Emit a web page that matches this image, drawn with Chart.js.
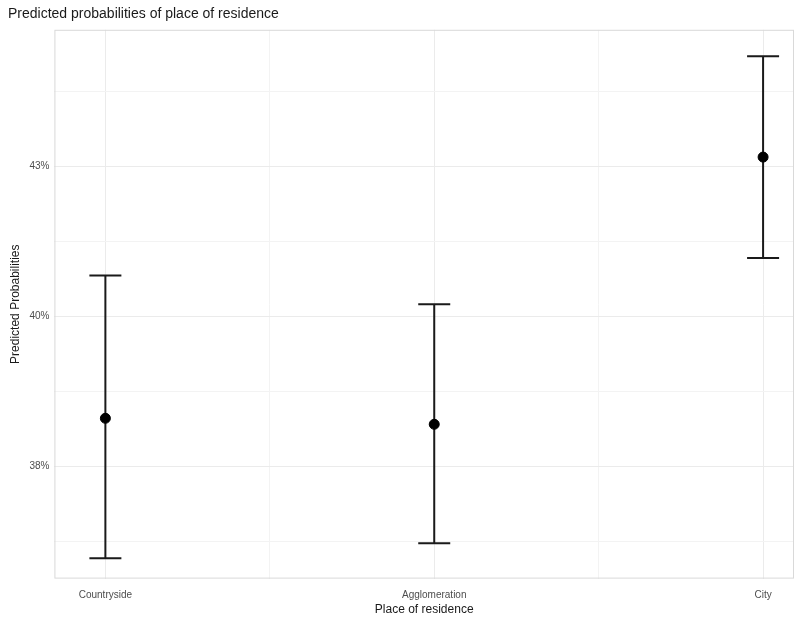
<!DOCTYPE html>
<html>
<head>
<meta charset="utf-8">
<script src="https://cdn.jsdelivr.net/npm/chart.js@4.4.1/dist/chart.umd.min.js"></script>
<style>
  html, body { margin: 0; padding: 0; background: #fff; }
  #wrap { width: 800px; height: 620px; }
</style>
</head>
<body>
<div id="wrap"><canvas id="chart"></canvas></div>
<script>
// data (percent)
const categories = ['Countryside', 'Agglomeration', 'City'];
const predicted = [38.3, 38.2, 42.65];
const lowerCI = [35.97, 36.22, 40.97];
const upperCI = [40.68, 40.2, 44.33];

// y axis: major breaks with their (rounded) labels, minor breaks in between
const yMajor = [37.5, 40, 42.5];
const yMajorLabels = ['38%', '40%', '43%'];
const yMinor = [36.25, 38.75, 41.25, 43.75];
const xGrid = [0, 0.5, 1, 1.5, 2];

const FONT = '"Liberation Sans", Arial, sans-serif';

// error bars + panel border, drawn through the scales
const errorBars = {
    id: 'errorBars',
    beforeDatasetsDraw(chart) {
        const { ctx, chartArea: a, scales: { x, y } } = chart;
        ctx.save();
        ctx.strokeStyle = '#d9d9d9';
        ctx.lineWidth = 1;
        ctx.strokeRect(a.left + 0.5, a.top + 0.5, a.right - a.left - 1, a.bottom - a.top - 1);

        ctx.strokeStyle = '#1a1a1a';
        ctx.lineWidth = 2;
        const half = 16;
        categories.forEach((c, i) => {
            const px = x.getPixelForValue(i);
            const lo = y.getPixelForValue(lowerCI[i]);
            const hi = y.getPixelForValue(upperCI[i]);
            ctx.beginPath();
            ctx.moveTo(px, lo); ctx.lineTo(px, hi);
            ctx.moveTo(px - half, lo); ctx.lineTo(px + half, lo);
            ctx.moveTo(px - half, hi); ctx.lineTo(px + half, hi);
            ctx.stroke();
        });
        ctx.restore();
    }
};

const ctx = document.getElementById('chart').getContext('2d');
new Chart(ctx, {
    type: 'scatter',
    data: {
        datasets: [{
            data: categories.map((c, i) => ({ x: i, y: predicted[i] })),
            backgroundColor: '#000',
            borderColor: '#000',
            pointRadius: 5,
            pointHoverRadius: 5
        }]
    },
    options: {
        responsive: true,
        maintainAspectRatio: false,
        animation: false,
        layout: { padding: { left: 8, right: 5, top: 2, bottom: 3 } },
        plugins: {
            legend: { display: false },
            tooltip: { enabled: false },
            title: {
                display: true,
                text: 'Predicted probabilities of place of residence',
                align: 'start',
                color: '#1a1a1a',
                font: { family: FONT, size: 14, weight: 'normal' },
                padding: { top: 4, bottom: 7 }
            }
        },
        scales: {
            x: {
                type: 'linear',
                min: -0.155,
                max: 2.094,
                afterBuildTicks: s => { s.ticks = xGrid.map(v => ({ value: v })); },
                ticks: {
                    autoSkip: false,
                    maxRotation: 0,
                    color: '#4d4d4d',
                    font: { family: FONT, size: 10 },
                    padding: 11,
                    callback: v => Number.isInteger(v) ? categories[v] : ''
                },
                grid: {
                    color: c => Number.isInteger(c.tick && c.tick.value) ? '#ebebeb' : '#f3f3f3',
                    drawTicks: false
                },
                border: { display: false },
                title: {
                    display: true,
                    text: 'Place of residence',
                    color: '#1a1a1a',
                    font: { family: FONT, size: 12 },
                    padding: { top: -10, bottom: 0 }
                }
            },
            y: {
                min: 35.63,
                max: 44.77,
                afterBuildTicks: s => {
                    s.ticks = [...yMajor, ...yMinor].sort((a, b) => a - b).map(v => ({ value: v }));
                },
                ticks: {
                    autoSkip: false,
                    color: '#4d4d4d',
                    font: { family: FONT, size: 10 },
                    padding: 5,
                    callback: v => {
                        const k = yMajor.indexOf(v);
                        return k >= 0 ? yMajorLabels[k] : '';
                    }
                },
                grid: {
                    color: c => yMajor.includes(c.tick && c.tick.value) ? '#ebebeb' : '#f3f3f3',
                    drawTicks: false
                },
                border: { display: false },
                title: {
                    display: true,
                    text: 'Predicted Probabilities',
                    color: '#1a1a1a',
                    font: { family: FONT, size: 12 },
                    padding: { top: 0, bottom: 2 }
                }
            }
        }
    },
    plugins: [errorBars]
});
</script>
</body>
</html>
